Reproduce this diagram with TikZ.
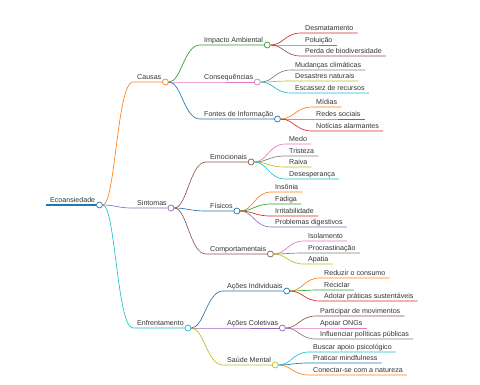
\documentclass[tikz,border=0pt]{standalone}
\usepackage{fontspec}
\setmainfont{Liberation Sans}
\usepackage{tikz}

\definecolor{mmBlue}{HTML}{1F77B4}
\definecolor{mmOrange}{HTML}{FF7F0E}
\definecolor{mmGreen}{HTML}{2CA02C}
\definecolor{mmRed}{HTML}{D62728}
\definecolor{mmPurple}{HTML}{9467BD}
\definecolor{mmBrown}{HTML}{8C564B}
\definecolor{mmPink}{HTML}{E377C2}
\definecolor{mmGray}{HTML}{7F7F7F}
\definecolor{mmOlive}{HTML}{BCBD22}
\definecolor{mmCyan}{HTML}{17BECF}

\tikzstyle{topic} = [
  anchor=south west, inner xsep=4pt, inner ysep=0.5pt,
  text height=5.3pt, text depth=1.5pt,
  font=\fontsize{7.1}{8}\selectfont, text=black!80
]
\tikzstyle{knob} = [
  circle, draw, fill=white, line width=0.7pt,
  inner sep=0pt, minimum size=6pt
]
\tikzstyle{stem} = [line width=0.65pt]
\tikzset{link/.style={to path={.. controls +(16,0) and +(-16,0) .. (\tikztotarget)}}}

\begin{document}
\begin{tikzpicture}[x=1pt, y=-1pt]
  \useasboundingbox (0,0) rectangle (480,384);

  % Root
  \node[topic] (eco) at (46,205) {Ecoansiedade};
  \node[knob, draw=mmBlue] (eco-dot) at (eco.south east) {};
  \draw[mmBlue, line width=1.5pt] (eco.south west) -- (eco-dot);

  % First level
  \node[topic] (causas) at (133,82) {Causas};
  \node[topic] (sint) at (133,208) {Sintomas};
  \node[topic] (enfr) at (133,328) {Enfrentamento};
  \node[knob, draw=mmOrange] (causas-dot) at (causas.south east) {};
  \node[knob, draw=mmPurple] (sint-dot) at (sint.south east) {};
  \node[knob, draw=mmCyan] (enfr-dot) at (enfr.south east) {};

  % Causas branch
  \node[topic] (impacto) at (200,45) {Impacto Ambiental};
  \node[topic] (conseq) at (200,82) {Consequências};
  \node[topic] (fontes) at (200,119) {Fontes de Informação};
  \node[knob, draw=mmGreen] (impacto-dot) at (impacto.south east) {};
  \node[knob, draw=mmPink] (conseq-dot) at (conseq.south east) {};
  \node[knob, draw=mmBlue] (fontes-dot) at (fontes.south east) {};

  \node[topic] (desm) at (301,33) {Desmatamento};
  \node[topic] (polu) at (301,45) {Poluição};
  \node[topic] (perda) at (301,56) {Perda de biodiversidade};
  \node[topic] (mudan) at (291,70) {Mudanças climáticas};
  \node[topic] (desast) at (291,81) {Desastres naturais};
  \node[topic] (escas) at (291,93) {Escassez de recursos};
  \node[topic] (midias) at (312,107) {Mídias};
  \node[topic] (redes) at (312,119) {Redes sociais};
  \node[topic] (notic) at (312,131) {Notícias alarmantes};

  % Sintomas branch
  \node[topic] (emoc) at (206,162) {Emocionais};
  \node[topic] (fisic) at (206,211) {Físicos};
  \node[topic] (comport) at (206,254) {Comportamentais};
  \node[knob, draw=mmBrown] (emoc-dot) at (emoc.south east) {};
  \node[knob, draw=mmBlue] (fisic-dot) at (fisic.south east) {};
  \node[knob, draw=mmBrown] (comport-dot) at (comport.south east) {};

  \node[topic] (medo) at (285,144) {Medo};
  \node[topic] (trist) at (285,156) {Tristeza};
  \node[topic] (raiva) at (285,167) {Raiva};
  \node[topic] (deses) at (285,179) {Desesperança};
  \node[topic] (insonia) at (271,192) {Insônia};
  \node[topic] (fadiga) at (271,204) {Fadiga};
  \node[topic] (irrit) at (271,216) {Irritabilidade};
  \node[topic] (digest) at (271,227) {Problemas digestivos};
  \node[topic] (isol) at (304,241) {Isolamento};
  \node[topic] (procr) at (304,253) {Procrastinação};
  \node[topic] (apatia) at (304,264) {Apatia};

  % Enfrentamento branch
  \node[topic] (acind) at (223,291) {Ações Individuais};
  \node[topic] (accol) at (223,328) {Ações Coletivas};
  \node[topic] (saude) at (223,365) {Saúde Mental};
  \node[knob, draw=mmBlue] (acind-dot) at (acind.south east) {};
  \node[knob, draw=mmPurple] (accol-dot) at (accol.south east) {};
  \node[knob, draw=mmOlive] (saude-dot) at (saude.south east) {};

  \node[topic] (reduz) at (320,278) {Reduzir o consumo};
  \node[topic] (recic) at (320,290) {Reciclar};
  \node[topic] (adot) at (320,301) {Adotar práticas sustentáveis};
  \node[topic] (partic) at (316,316) {Participar de movimentos};
  \node[topic] (apoiar) at (316,328) {Apoiar ONGs};
  \node[topic] (influ) at (316,339) {Influenciar políticas públicas};
  \node[topic] (buscar) at (309,352) {Buscar apoio psicológico};
  \node[topic] (pratic) at (309,363) {Praticar mindfulness};
  \node[topic] (conect) at (309,375) {Conectar-se com a natureza};

  % Links to inner topics
  \foreach \n/\c in {causas/mmOrange, sint/mmPurple, enfr/mmCyan}
    \draw[stem, \c] (eco-dot) to[link] (\n.south west) -- (\n-dot);
  \foreach \n/\c in {impacto/mmGreen, conseq/mmPink, fontes/mmBlue}
    \draw[stem, \c] (causas-dot) to[link] (\n.south west) -- (\n-dot);
  \foreach \n/\c in {emoc/mmBrown, fisic/mmBlue, comport/mmBrown}
    \draw[stem, \c] (sint-dot) to[link] (\n.south west) -- (\n-dot);
  \foreach \n/\c in {acind/mmBlue, accol/mmPurple, saude/mmOlive}
    \draw[stem, \c] (enfr-dot) to[link] (\n.south west) -- (\n-dot);

  % Links to leaves
  \foreach \n/\c in {desm/mmRed, polu/mmPurple, perda/mmBrown}
    \draw[stem, \c] (impacto-dot) to[link] (\n.south west) -- (\n.south east);
  \foreach \n/\c in {mudan/mmGray, desast/mmOlive, escas/mmCyan}
    \draw[stem, \c] (conseq-dot) to[link] (\n.south west) -- (\n.south east);
  \foreach \n/\c in {midias/mmOrange, redes/mmGreen, notic/mmRed}
    \draw[stem, \c] (fontes-dot) to[link] (\n.south west) -- (\n.south east);
  \foreach \n/\c in {medo/mmPink, trist/mmGray, raiva/mmOlive, deses/mmCyan}
    \draw[stem, \c] (emoc-dot) to[link] (\n.south west) -- (\n.south east);
  \foreach \n/\c in {insonia/mmOrange, fadiga/mmGreen, irrit/mmRed, digest/mmPurple}
    \draw[stem, \c] (fisic-dot) to[link] (\n.south west) -- (\n.south east);
  \foreach \n/\c in {isol/mmPink, procr/mmGray, apatia/mmOlive}
    \draw[stem, \c] (comport-dot) to[link] (\n.south west) -- (\n.south east);
  \foreach \n/\c in {reduz/mmOrange, recic/mmGreen, adot/mmRed}
    \draw[stem, \c] (acind-dot) to[link] (\n.south west) -- (\n.south east);
  \foreach \n/\c in {partic/mmBrown, apoiar/mmPink, influ/mmGray}
    \draw[stem, \c] (accol-dot) to[link] (\n.south west) -- (\n.south east);
  \foreach \n/\c in {buscar/mmCyan, pratic/mmBlue, conect/mmOrange}
    \draw[stem, \c] (saude-dot) to[link] (\n.south west) -- (\n.south east);

\end{tikzpicture}
\end{document}
